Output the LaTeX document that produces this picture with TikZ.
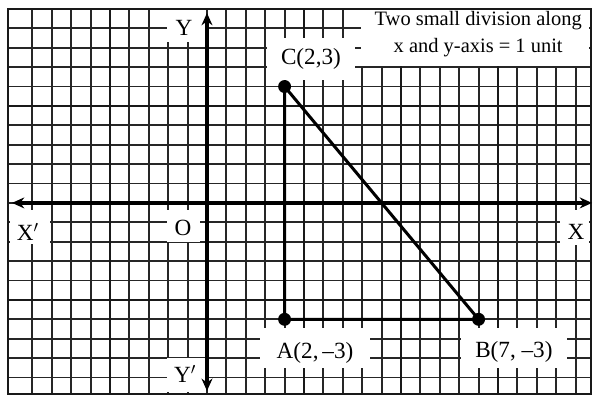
\documentclass[tikz,border=0pt]{standalone}
\usepackage{fontspec}
\setmainfont{Liberation Serif}
\usetikzlibrary{arrows.meta}
\begin{document}
\begin{tikzpicture}[x=0.5cm,y=0.5cm,
  minor/.style={line width=1.35pt, black!85},
  major/.style={line width=2pt, black!90},
  axisline/.style={line width=2.5pt, {Stealth[length=9pt,width=8pt]}-{Stealth[length=9pt,width=8pt]}},
  lbl/.style={inner sep=0pt, font=\fontsize{17}{20}\selectfont},
  notetext/.style={inner sep=0pt, align=center, font=\fontsize{15}{19.5}\selectfont},
  edgeline/.style={line width=2.2pt},
  dot/.style={circle, fill=black, inner sep=0pt, minimum size=9.5pt}
]
\useasboundingbox (-10.67,-10.10) rectangle (19.95,10.46);
% grid
\begin{scope}
\clip (-10.26,-9.85) rectangle (19.79,10);
\foreach \x in {-9,...,19} { \draw[minor] (\x,-9.85) -- (\x,10); }
\foreach \y in {-9,...,9} { \draw[minor] (-10.26,\y) -- (19.79,\y); }
\foreach \x in {-5,5,10,15} { \draw[major] (\x,-9.85) -- (\x,10); }
\foreach \y in {-5,5} { \draw[major] (-10.26,\y) -- (19.79,\y); }
\end{scope}
% white label areas
\fill[white] (-2.06,8.30) rectangle (-0.10,9.95);
\fill[white] (7.94,7.06) rectangle (19.70,9.93);
\fill[white] (3.09,6.34) rectangle (7.63,8.5);
\fill[white] (-10.15,-2.11) rectangle (-8.09,-0.36);
\fill[white] (-2.06,-2.01) rectangle (-0.36,-0.36);
\fill[white] (-2.06,-9.74) rectangle (-0.10,-7.99);
\fill[white] (2.73,-8.51) rectangle (8.40,-6.44);
\fill[white] (13.09,-8.51) rectangle (18.56,-6.44);
\fill[white] (18.2,-2.16) rectangle (19.70,-0.36);
\draw[major] (-10.26,-9.85) rectangle (19.79,10);
% axes
\coordinate (xl) at (-10.05,0);
\coordinate (xr) at (19.85,0);
\coordinate (yt) at (0,9.79);
\coordinate (yb) at (0,-9.69);
\draw[axisline] (xl) -- (xr);
\draw[axisline] (yb) -- (yt);
% triangle
\node[dot] (A) at (4,-6) {};
\node[dot] (B) at (14,-6) {};
\node[dot] (C) at (4,6) {};
\draw[edgeline] (A.center) -- (B.center) -- (C.center) -- cycle;
% labels
\node[lbl] (lY) at (-1.19,9.02) {Y};
\node[lbl] (lYp) at (-1.13,-8.81) {Y$'$};
\node[lbl] (lX) at (19.02,-1.49) {X};
\node[lbl] (lXp) at (-9.23,-1.49) {X$'$};
\node[lbl] (lO) at (-1.24,-1.29) {O};
\node[lbl] (lC) at (5.36,7.42) {C(2,3)};
\node[lbl] (lA) at (5.57,-7.73) {A(2,\,--3)};
\node[lbl] (lB) at (15.82,-7.68) {B(7, --3)};
\node[notetext] (note) at (13.98,8.69) {Two small division along\\x and y-axis = 1 unit};
\end{tikzpicture}
\end{document}
